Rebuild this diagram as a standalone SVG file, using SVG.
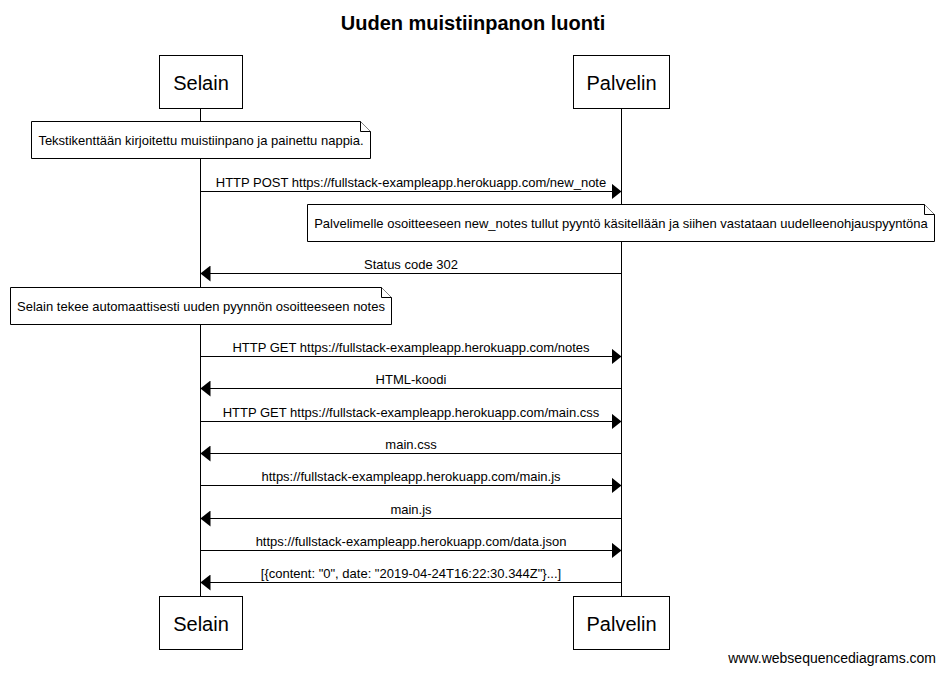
<svg xmlns="http://www.w3.org/2000/svg" width="944" height="674" viewBox="0 0 944 674">
<style>
  text { font-family: "Liberation Sans", Arial, sans-serif; fill: #000; }
  .title { font-size: 20px; font-weight: bold; text-anchor: middle; }
  .actor rect { fill: #fff; stroke: #000; stroke-width: 1; }
  .actor text { font-size: 20px; text-anchor: middle; }
  .life { stroke: #000; stroke-width: 1; }
  .note path { fill: #fff; stroke: #000; stroke-width: 1; }
  .note text { font-size: 13px; text-anchor: middle; }
  .msg line { stroke: #000; stroke-width: 1; marker-end: url(#arrow); }
  .msg text { font-size: 13px; text-anchor: middle; }
  .foot { font-size: 14px; text-anchor: end; }
</style>
<defs>
  <marker id="arrow" markerUnits="userSpaceOnUse" markerWidth="10" markerHeight="16" refX="10" refY="8" orient="auto">
    <path d="M0,0 L10,8 L0,16 Z" fill="#000"/>
  </marker>
</defs>
<rect width="944" height="674" fill="#fff"/>
<text class="title" x="473" y="30">Uuden muistiinpanon luonti</text>

<g id="lifelines">
  <line class="life" x1="200.5" y1="108.5" x2="200.5" y2="596.5"/>
  <line class="life" x1="621.5" y1="108.5" x2="621.5" y2="596.5"/>
</g>

<g id="selain-top" class="actor">
  <rect x="159.5" y="55.5" width="83" height="53"/>
  <text x="201" y="90">Selain</text>
</g>
<g id="palvelin-top" class="actor">
  <rect x="573.5" y="55.5" width="96" height="53"/>
  <text x="621.5" y="90">Palvelin</text>
</g>
<g id="selain-bottom" class="actor">
  <rect x="159.5" y="596.5" width="83" height="53"/>
  <text x="201" y="631">Selain</text>
</g>
<g id="palvelin-bottom" class="actor">
  <rect x="573.5" y="596.5" width="96" height="53"/>
  <text x="621.5" y="631">Palvelin</text>
</g>

<g id="note1" class="note">
  <path d="M31.5,121.5 H360.5 L370.5,131.5 V158.5 H31.5 Z"/>
  <path d="M360.5,121.5 V131.5 H370.5" fill="none"/>
  <text x="201" y="145">Tekstikenttään kirjoitettu muistiinpano ja painettu nappia.</text>
</g>
<g id="note2" class="note">
  <path d="M307.5,204.5 H924.5 L934.5,214.5 V241.5 H307.5 Z"/>
  <path d="M924.5,204.5 V214.5 H934.5" fill="none"/>
  <text x="621" y="228">Palvelimelle osoitteeseen new_notes tullut pyyntö käsitellään ja siihen vastataan uudelleenohjauspyyntöna</text>
</g>
<g id="note3" class="note">
  <path d="M10.5,287.5 H381.5 L391.5,297.5 V324.5 H10.5 Z"/>
  <path d="M381.5,287.5 V297.5 H391.5" fill="none"/>
  <text x="201" y="311">Selain tekee automaattisesti uuden pyynnön osoitteeseen notes</text>
</g>

<g id="connectors" class="msg">
  <line x1="200.5" y1="191.5" x2="621.5" y2="191.5"/>
  <text x="411" y="186.5">HTTP POST https://fullstack-exampleapp.herokuapp.com/new_note</text>
  <line x1="621.5" y1="273.5" x2="200.5" y2="273.5"/>
  <text x="411" y="268.5">Status code 302</text>
  <line x1="200.5" y1="356.5" x2="621.5" y2="356.5"/>
  <text x="411" y="351.5">HTTP GET https://fullstack-exampleapp.herokuapp.com/notes</text>
  <line x1="621.5" y1="388.5" x2="200.5" y2="388.5"/>
  <text x="411" y="383.5">HTML-koodi</text>
  <line x1="200.5" y1="421.5" x2="621.5" y2="421.5"/>
  <text x="411" y="416.5">HTTP GET https://fullstack-exampleapp.herokuapp.com/main.css</text>
  <line x1="621.5" y1="453.5" x2="200.5" y2="453.5"/>
  <text x="411" y="448.5">main.css</text>
  <line x1="200.5" y1="485.5" x2="621.5" y2="485.5"/>
  <text x="411" y="480.5">https://fullstack-exampleapp.herokuapp.com/main.js</text>
  <line x1="621.5" y1="518.5" x2="200.5" y2="518.5"/>
  <text x="411" y="513.5">main.js</text>
  <line x1="200.5" y1="550.5" x2="621.5" y2="550.5"/>
  <text x="411" y="545.5">https://fullstack-exampleapp.herokuapp.com/data.json</text>
  <line x1="621.5" y1="582.5" x2="200.5" y2="582.5"/>
  <text x="411" y="577.5">[{content: "0", date: "2019-04-24T16:22:30.344Z"}...]</text>
</g>

<text class="foot" x="936" y="663">www.websequencediagrams.com</text>
</svg>
